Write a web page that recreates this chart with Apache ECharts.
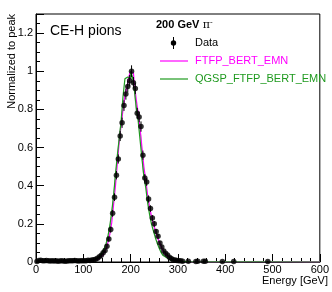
<!DOCTYPE html>
<html><head><meta charset="utf-8">
<script src="https://cdn.jsdelivr.net/npm/echarts@6/dist/echarts.min.js"></script>
<style>html,body{margin:0;padding:0;background:#fff}#c{width:332px;height:292px}</style>
</head><body><div id="c"></div>
<script>
// Bin centers (GeV), 4 GeV bins
const binCenters = [2,6,10,14,18,22,26,30,34,38,42,46,50,54,58,62,66,70,74,78,82,86,90,94,98,102,106,110,114,118,122,126,130,134,138,142,146,150,154,158,162,166,170,174,178,182,186,190,194,198,202,206,210,214,218,222,226,230,234,238,242,246,250,254,258,262,266,270,274,278,282,286,290,294,298,302,306,310,314,318,322,326,330,334,338];
// Data (normalized to peak)
const dataValues = [0.003,0.008,0.009,0.007,0.006,0.008,0.006,0.005,0.006,0.005,0.006,0.004,0.005,0.006,0.005,0.004,0.005,0.006,0.007,0.006,0.008,0.006,0.005,0.007,0.006,0.007,0.006,0.009,0.008,0.011,0.012,0.014,0.02,0.027,0.035,0.048,0.06,0.083,0.12,0.17,0.255,0.34,0.455,0.54,0.66,0.73,0.82,0.88,0.92,0.95,1.0,0.94,0.91,0.78,0.76,0.71,0.56,0.44,0.42,0.33,0.28,0.23,0.2,0.16,0.135,0.1,0.078,0.058,0.046,0.037,0.025,0.018,0.012,0.01,0.008,0.007,0.006,0.004,0,0,0.004,0,0,0,0.003];
const dataErrors = [0.003,0.004,0.004,0.004,0.003,0.004,0.003,0.003,0.003,0.003,0.003,0.003,0.003,0.003,0.003,0.003,0.003,0.003,0.004,0.003,0.004,0.003,0.003,0.004,0.003,0.004,0.003,0.004,0.004,0.004,0.005,0.005,0.006,0.007,0.008,0.009,0.01,0.012,0.013,0.016,0.018,0.02,0.022,0.024,0.026,0.027,0.028,0.029,0.03,0.03,0.031,0.03,0.03,0.028,0.027,0.027,0.024,0.021,0.021,0.019,0.017,0.016,0.015,0.013,0.012,0.01,0.009,0.008,0.007,0.006,0.005,0.005,0.004,0.004,0.003,0.003,0.003,0.003,0,0,0.003,0,0,0,0.003];
// Sparse data points in the high-energy tail
const tailCenters = [342,354,358,394,418,490];
const tailValues = [0.004,0.004,0.004,0.003,0.003,0.003];
const tailErrors = [0.003,0.003,0.003,0.003,0.003,0.003];
// Simulations
const qgspValues = [0.004,0.006,0.006,0.005,0.005,0.006,0.005,0.005,0.006,0.005,0.005,0.006,0.005,0.005,0.006,0.005,0.006,0.005,0.006,0.006,0.005,0.006,0.006,0.005,0.006,0.006,0.006,0.006,0.007,0.009,0.011,0.015,0.02,0.028,0.038,0.052,0.07,0.095,0.135,0.19,0.26,0.35,0.46,0.56,0.65,0.74,0.87,0.96,0.97,0.96,1.0,0.97,0.9,0.81,0.74,0.64,0.54,0.45,0.39,0.31,0.25,0.2,0.165,0.13,0.1,0.075,0.052,0.036,0.026,0.017,0.011,0.008,0.006,0.004,0.003,0.003,0.002,0.002,0.002,0.002,0.002,0.001,0.001,0.001,0.001];
const ftfpValues = [0.003,0.004,0.004,0.003,0.004,0.003,0.004,0.003,0.004,0.003,0.003,0.004,0.003,0.004,0.003,0.004,0.003,0.004,0.004,0.003,0.004,0.004,0.003,0.004,0.004,0.004,0.004,0.004,0.005,0.007,0.009,0.011,0.014,0.019,0.026,0.036,0.05,0.068,0.1,0.145,0.205,0.3,0.4,0.52,0.63,0.72,0.8,0.87,0.91,0.97,1.0,0.99,0.93,0.85,0.78,0.7,0.6,0.5,0.43,0.35,0.29,0.24,0.2,0.17,0.135,0.11,0.085,0.062,0.046,0.032,0.021,0.014,0.009,0.006,0.004,0.003,0.003,0.002,0.002,0.002,0.001,0.001,0.001,0.001,0.001];
const xTicks = [0,100,200,300,400,500,600];
const yTicks = [0,0.2,0.4,0.6,0.8,1,1.2];

const FONT = '"Liberation Sans", Arial, Helvetica, sans-serif';
function histLine(vals){
  const out = [[0, vals[0]]];
  binCenters.forEach((c,i)=>out.push([c, vals[i]]));
  out.push([600, 0]);
  return out;
}
const pts = [];
binCenters.forEach((c,i)=>{ if (dataValues[i] > 0) pts.push([c, dataValues[i], dataErrors[i]]); });
tailCenters.forEach((c,i)=>pts.push([c, tailValues[i], tailErrors[i]]));

const chart = echarts.init(document.getElementById('c'), null, {renderer:'canvas'});
chart.setOption({
  animation:false,
  backgroundColor:'#fff',
  grid:{left:36,right:4,top:14,bottom:30,show:true,borderColor:'#000',borderWidth:1,backgroundColor:'transparent'},
  xAxis:{type:'value',min:xTicks[0],max:xTicks[xTicks.length-1],interval:100,
    axisLine:{show:true,onZero:false,lineStyle:{color:'#000',width:1}},
    axisTick:{show:true,inside:true,length:8,lineStyle:{color:'#000'}},
    minorTick:{show:true,splitNumber:5,length:4,lineStyle:{color:'#000'}},
    splitLine:{show:false},
    axisLabel:{color:'#000',fontFamily:FONT,fontSize:11,margin:2,
      formatter:v=>xTicks.indexOf(v)>=0?String(v):''}},
  yAxis:{type:'value',min:0,max:1.3,interval:0.2,
    axisLine:{show:true,lineStyle:{color:'#000',width:1}},
    axisTick:{show:true,inside:true,length:8,lineStyle:{color:'#000'}},
    minorTick:{show:true,splitNumber:4,length:4,lineStyle:{color:'#000'}},
    splitLine:{show:false},
    axisLabel:{color:'#000',fontFamily:FONT,fontSize:11,margin:3,showMaxLabel:false,
      formatter:v=>{const r=Math.round(v*10)/10; return yTicks.indexOf(r)>=0 && Math.abs(v-r)<1e-6 ? String(r) : '';}}},
  series:[
    {type:'line',step:'middle',data:histLine(dataValues),showSymbol:false,lineStyle:{color:'#aaa',width:1},z:1,silent:true},
    {type:'line',step:'middle',data:histLine(ftfpValues),showSymbol:false,lineStyle:{color:'#ff00ff',width:1.2},z:2,silent:true},
    {type:'line',step:'middle',data:histLine(qgspValues),showSymbol:false,lineStyle:{color:'#1f9a1f',width:1.2},z:3,silent:true},
    {type:'custom',data:pts,z:4,silent:true,
      renderItem:(params,api)=>{
        const x=api.value(0),y=api.value(1),e=api.value(2);
        const p1=api.coord([x,Math.max(0,y-e)]),p2=api.coord([x,y+e]);
        return {type:'line',shape:{x1:p1[0],y1:p1[1],x2:p2[0],y2:p2[1]},style:{stroke:'#000',lineWidth:1}};
      }},
    {type:'scatter',data:pts.map(p=>[p[0],p[1]]),symbol:'circle',symbolSize:5.5,itemStyle:{color:'#000'},z:5,silent:true}
  ],
  graphic:[
    {type:'text',x:12,y:14,rotation:Math.PI/2,style:{text:'Normalized to peak',font:'11px '+FONT,fill:'#000',align:'right',verticalAlign:'middle'}},
    {type:'text',x:328,y:281,style:{text:'Energy [GeV]',font:'11px '+FONT,fill:'#000',align:'right',verticalAlign:'middle'}},
    {type:'text',x:50,y:31,style:{text:'CE-H pions',font:'14px '+FONT,fill:'#000',align:'left',verticalAlign:'middle'}},
    {type:'text',x:156,y:25,style:{text:'{b|200 GeV} {p|π}{s|-}',verticalAlign:'middle',align:'left',
      rich:{b:{font:'bold 11px '+FONT,fill:'#000'},p:{font:'11px "DejaVu Serif", serif',fill:'#000'},s:{font:'8px '+FONT,fill:'#000',verticalAlign:'top',padding:[0,0,6,0]}}}},
    {type:'line',shape:{x1:173.5,y1:37,x2:173.5,y2:49},style:{stroke:'#000',lineWidth:1}},
    {type:'circle',shape:{cx:173.5,cy:43,r:2.7},style:{fill:'#000'}},
    {type:'text',x:195,y:43,style:{text:'Data',font:'11px '+FONT,fill:'#000',align:'left',verticalAlign:'middle'}},
    {type:'line',shape:{x1:160,y1:61,x2:188,y2:61},style:{stroke:'#ff00ff',lineWidth:1.2}},
    {type:'text',x:195,y:61,style:{text:'FTFP_BERT_EMN',font:'11px '+FONT,fill:'#ff00ff',align:'left',verticalAlign:'middle'}},
    {type:'line',shape:{x1:160,y1:79,x2:188,y2:79},style:{stroke:'#1f9a1f',lineWidth:1.2}},
    {type:'text',x:195,y:79,style:{text:'QGSP_FTFP_BERT_EMN',font:'11px '+FONT,fill:'#1f9a1f',align:'left',verticalAlign:'middle'}}
  ]
});
</script></body></html>
